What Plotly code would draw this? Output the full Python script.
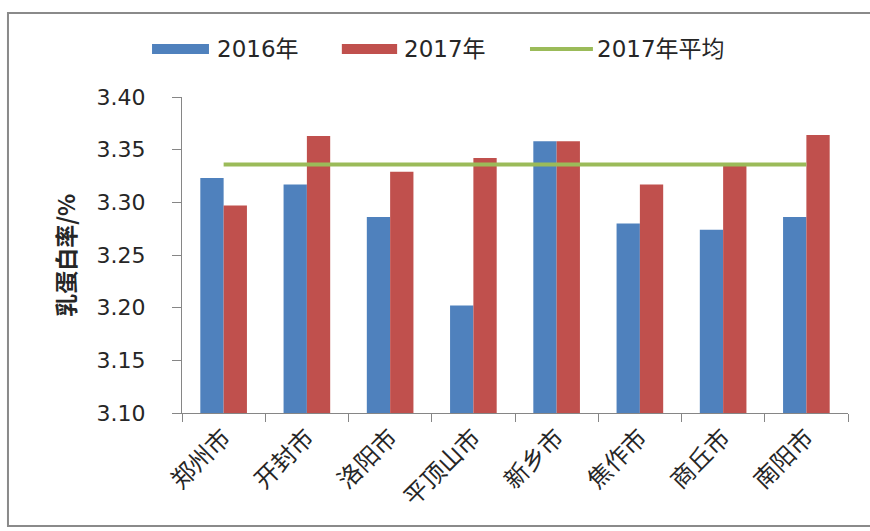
import plotly.graph_objects as go

# Milk protein rate by city, 2016 vs 2017 (%)
cities = ["郑州市", "开封市", "洛阳市", "平顶山市", "新乡市", "焦作市", "商丘市", "南阳市"]
protein_2016 = [3.323, 3.317, 3.286, 3.202, 3.358, 3.280, 3.274, 3.286]
protein_2017 = [3.297, 3.363, 3.329, 3.342, 3.358, 3.317, 3.335, 3.364]
avg_2017 = 3.336
y_ticks = [3.10, 3.15, 3.20, 3.25, 3.30, 3.35, 3.40]

BLUE = "#4F81BD"
RED = "#C0504D"
GREEN = "#9BBB59"
AXIS = "#868686"
FONT = "DejaVu Sans, Noto Sans CJK SC, sans-serif"
CJK = "Noto Sans CJK SC, sans-serif"

fig = go.Figure()
fig.add_trace(go.Bar(x=cities, y=protein_2016, name="2016年",
                     marker=dict(color=BLUE, line=dict(width=0)), showlegend=False))
fig.add_trace(go.Bar(x=cities, y=protein_2017, name="2017年",
                     marker=dict(color=RED, line=dict(width=0)), showlegend=False))
fig.add_trace(go.Scatter(x=cities, y=[avg_2017] * len(cities), mode="lines",
                         name="2017年平均", line=dict(color=GREEN, width=4),
                         showlegend=False))

# hand-built legend so the swatches are long bars like the original
legend_items = [
    ("rect", BLUE, -0.045, 0.0405, "2016年", 0.050),
    ("rect", RED, 0.240, 0.323, "2017年", 0.330),
    ("line", GREEN, 0.5225, 0.617, "2017年平均", 0.620),
]
shapes = []
annotations = []
for kind, color, x0, x1, label, tx in legend_items:
    if kind == "rect":
        shapes.append(dict(type="rect", xref="paper", yref="paper", x0=x0, x1=x1,
                           y0=1.136, y1=1.168, fillcolor=color, line=dict(width=0)))
    else:
        shapes.append(dict(type="line", xref="paper", yref="paper", x0=x0, x1=x1,
                           y0=1.152, y1=1.152, line=dict(color=color, width=4)))
    annotations.append(dict(text=label, xref="paper", yref="paper", x=tx, y=1.152,
                            xanchor="left", yanchor="middle", showarrow=False,
                            font=dict(family=FONT, size=23, color="#262626")))

# y-axis title
annotations.append(dict(text="<b>乳蛋白率/%</b>", xref="paper", yref="paper",
                        x=-0.176, y=0.5, xanchor="center", yanchor="middle",
                        textangle=-90, showarrow=False,
                        font=dict(family=CJK, size=23, color="#262626")))

# outer frame (right edge runs off the page like the original crop)
shapes.append(dict(type="rect", xref="paper", yref="paper", x0=-0.2613, x1=1.2,
                   y0=-0.3576, y1=1.2658, line=dict(color="#8a8a8a", width=2),
                   fillcolor="rgba(0,0,0,0)", layer="below"))

fig.update_layout(
    width=870, height=531,
    barmode="group", bargap=0.44, bargroupgap=0,
    plot_bgcolor="white", paper_bgcolor="white",
    margin=dict(l=182, r=22, t=97, b=118, autoexpand=False),
    shapes=shapes, annotations=annotations,
    showlegend=False,
)
fig.update_xaxes(
    showline=True, linecolor=AXIS, linewidth=1,
    ticks="outside", tickson="boundaries", ticklen=8, tickcolor=AXIS,
    tickangle=-45, tickfont=dict(family=CJK, size=24, color="#262626"),
    showgrid=False, automargin=False,
)
fig.update_yaxes(
    range=[3.10, 3.40], tickvals=y_ticks, tickformat=".2f",
    showline=True, linecolor=AXIS, linewidth=1,
    ticks="outside", ticklen=9, tickcolor=AXIS, ticklabelstandoff=22,
    tickfont=dict(family=FONT, size=22, color="#262626"),
    showgrid=False, zeroline=False, automargin=False,
)

# drop the page's default body margin so the figure sits at the window origin
fig.write_html("out.html", config={"displayModeBar": False},
               post_script="document.body.style.margin='0';")
